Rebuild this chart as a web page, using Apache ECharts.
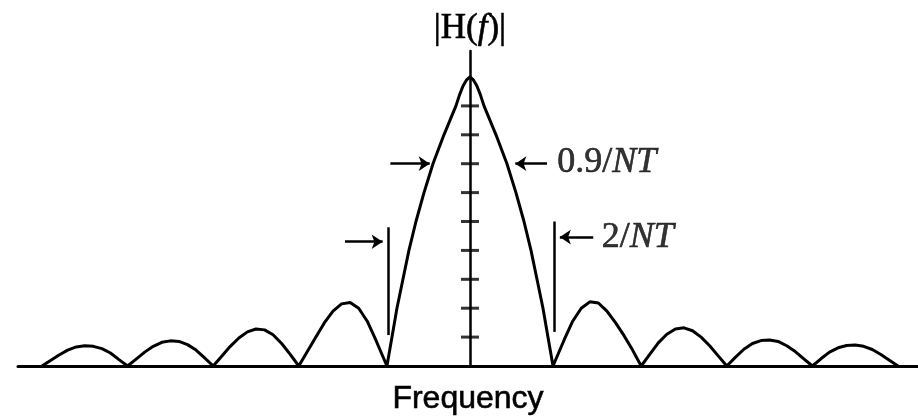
<!DOCTYPE html>
<html>
<head>
<meta charset="utf-8">
<title>|H(f)|</title>
<script src="https://cdn.jsdelivr.net/npm/echarts@6/dist/echarts.min.js"></script>
<style>
  html, body { margin: 0; padding: 0; background: #ffffff; }
  #chart { width: 918px; height: 419px; }
</style>
</head>
<body>
<div id="chart"></div>
<script>
// Frequency is in units of 1/NT, magnitude relative to the peak of |H(f)|.

// Main lobe, sampled left to right
const mainLobeFreq = [-0.97, -0.911, -0.853, -0.783, -0.713, -0.631, -0.537, -0.432, -0.304, -0.164, -0.12, -0.08, -0.04, 0,
                      0.04, 0.08, 0.12, 0.164, 0.304, 0.432, 0.537, 0.631, 0.713, 0.783, 0.853, 0.911, 0.97];
const mainLobeMag  = [0, 0.1, 0.2, 0.3, 0.4, 0.5, 0.6, 0.7, 0.8, 0.9, 0.94, 0.97, 0.99, 1,
                      0.99, 0.97, 0.94, 0.9, 0.8, 0.7, 0.6, 0.5, 0.4, 0.3, 0.2, 0.1, 0];

// Side lobes: |f| from 1.1 to 5.0 (four lobes on each side)
const sideLobeAbsFreq = [1.1, 1.2, 1.3, 1.4, 1.5, 1.6, 1.7, 1.8, 1.9, 2.0,
                         2.1, 2.2, 2.3, 2.4, 2.5, 2.6, 2.7, 2.8, 2.9, 3.0,
                         3.1, 3.2, 3.3, 3.4, 3.5, 3.6, 3.7, 3.8, 3.9, 4.0,
                         4.1, 4.2, 4.3, 4.4, 4.5, 4.6, 4.7, 4.8, 4.9, 5.0];
const rightSideMag = [0.09, 0.155, 0.20, 0.222, 0.218, 0.19, 0.15, 0.105, 0.055, 0,
                      0.04, 0.08, 0.11, 0.128, 0.132, 0.122, 0.10, 0.07, 0.035, 0,
                      0.03, 0.058, 0.078, 0.088, 0.09, 0.085, 0.07, 0.05, 0.025, 0,
                      0.025, 0.048, 0.063, 0.071, 0.073, 0.068, 0.057, 0.04, 0.02, 0];
const leftSideMag  = [0.09, 0.155, 0.20, 0.22, 0.215, 0.19, 0.15, 0.10, 0.05, 0,
                      0.04, 0.078, 0.108, 0.125, 0.128, 0.118, 0.097, 0.068, 0.034, 0,
                      0.028, 0.055, 0.074, 0.085, 0.087, 0.082, 0.068, 0.048, 0.024, 0,
                      0.022, 0.045, 0.06, 0.068, 0.07, 0.066, 0.055, 0.038, 0.019, 0];

// Tick marks on the |H(f)| axis
const magTicks = [0.1, 0.2, 0.3, 0.4, 0.5, 0.6, 0.7, 0.8, 0.9];

// Width annotations: text, anchor frequency, anchor magnitude
const noteText = ['{n|0.9/}{i|NT}', '{n|2/}{i|NT}'];
const noteFreq = [1.02, 1.54];
const noteMag  = [0.705, 0.443];

const INK = '#000000';

// Assemble the curve from left to right
const curve = [];
for (let i = sideLobeAbsFreq.length - 1; i >= 0; i--) {
  curve.push([-sideLobeAbsFreq[i], leftSideMag[i]]);
}
for (let i = 0; i < mainLobeFreq.length; i++) {
  curve.push([mainLobeFreq[i], mainLobeMag[i]]);
}
for (let i = 0; i < sideLobeAbsFreq.length; i++) {
  curve.push([sideLobeAbsFreq[i], rightSideMag[i]]);
}

const arrowEnd = (from, to) => [
  { coord: from, symbol: 'none' },
  { coord: to, symbol: 'arrow', symbolSize: 11 }
];
const plainLine = (from, to) => [
  { coord: from, symbol: 'none' },
  { coord: to, symbol: 'none' }
];

// A thin outline in the text colour gives the lettering a heavier stroke
const heavy = { textBorderColor: INK, textBorderWidth: 0.6 };

const textRich = {
  n: Object.assign({ fontFamily: 'Liberation Serif', fontSize: 36, color: INK }, heavy),
  i: Object.assign({ fontFamily: 'Liberation Serif', fontSize: 36, fontStyle: 'italic', color: INK }, heavy)
};

const chart = echarts.init(document.getElementById('chart'), null, { renderer: 'canvas' });

chart.setOption({
  animation: false,
  backgroundColor: '#ffffff',
  grid: { left: 18, right: 0, top: 51, bottom: 53, containLabel: false, outerBoundsMode: 'none' },
  xAxis: {
    type: 'value',
    min: -5.28,
    max: 5.234,
    name: 'Frequency',
    nameLocation: 'middle',
    nameGap: 17,
    nameTextStyle: Object.assign({ fontFamily: 'Liberation Sans', fontSize: 32, color: INK }, heavy),
    axisLine: { show: true, onZero: true, lineStyle: { color: INK, width: 3 } },
    axisTick: { show: false },
    axisLabel: { show: false },
    splitLine: { show: false }
  },
  yAxis: {
    type: 'value',
    min: 0,
    max: 1.09,
    name: '|H({i|f})|',
    nameLocation: 'end',
    nameGap: 5,
    nameTextStyle: Object.assign({
      fontFamily: 'Liberation Serif', fontSize: 35, color: INK,
      rich: { i: Object.assign({ fontFamily: 'Liberation Serif', fontSize: 35, fontStyle: 'italic', color: INK }, heavy) }
    }, heavy),
    axisLine: { show: true, onZero: true, lineStyle: { color: INK, width: 2.5 } },
    axisTick: { show: false },
    axisLabel: { show: false },
    splitLine: { show: false }
  },
  series: [
    {
      type: 'line',
      data: curve,
      showSymbol: false,
      smooth: false,
      silent: true,
      lineStyle: { color: INK, width: 3 },
      z: 3,
      markLine: {
        silent: true,
        animation: false,
        label: { show: false },
        lineStyle: { color: INK, width: 2.5, type: 'solid' },
        emphasis: { disabled: true },
        data: [
          arrowEnd([-0.93, 0.70], [-0.47, 0.70]),
          arrowEnd([0.90, 0.70], [0.53, 0.70]),
          plainLine([-0.96, 0.107], [-0.96, 0.48]),
          plainLine([0.98, 0.118], [0.98, 0.50]),
          arrowEnd([-1.46, 0.43], [-1.02, 0.43]),
          arrowEnd([1.44, 0.446], [1.05, 0.446])
        ]
      }
    },
    {
      type: 'scatter',
      data: magTicks.map(v => [0, v]),
      symbol: 'rect',
      symbolSize: [18, 3],
      itemStyle: { color: INK },
      silent: true,
      z: 4
    },
    {
      type: 'scatter',
      data: noteFreq.map((f, i) => ({ value: [f, noteMag[i]], text: noteText[i] })),
      symbolSize: 0,
      silent: true,
      label: {
        show: true,
        position: 'right',
        distance: 0,
        formatter: p => p.data.text,
        rich: textRich
      }
    }
  ]
});
</script>
</body>
</html>
